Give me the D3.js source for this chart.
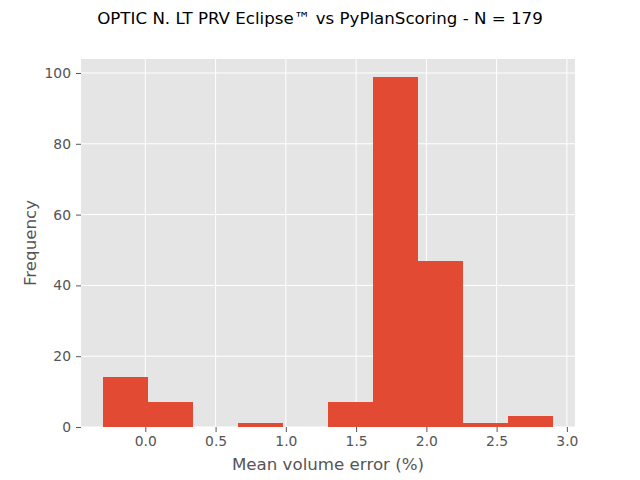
<!DOCTYPE html>
<html><head><meta charset="utf-8">
<script src="https://cdn.jsdelivr.net/npm/d3@7"></script>
<style>body{margin:0;background:#fff}svg{display:block}text{font-family:"DejaVu Sans",sans-serif}</style>
</head><body>
<svg id="c" width="640" height="480"></svg>
<script>
const binStart = -0.298;
const binWidth = 0.3196;
const counts = [14, 7, 0, 1, 0, 7, 99, 47, 1, 3];
const xTicks = [0.0, 0.5, 1.0, 1.5, 2.0, 2.5, 3.0];
const yTicks = [0, 20, 40, 60, 80, 100];
const title = "OPTIC N. LT PRV Eclipse™ vs PyPlanScoring - N = 179";
const xLabel = "Mean volume error (%)";
const yLabel = "Frequency";

const svg = d3.select("#c");
const L = 81, R = 575, T = 59, B = 427;
const bins = counts.map((c, i) => ({x0: binStart + i * binWidth, x1: binStart + (i + 1) * binWidth, c}));
const lo = bins[0].x0, hi = bins[bins.length - 1].x1, pad = (hi - lo) * 0.05;
const x = d3.scaleLinear().domain([lo - pad, hi + pad]).range([L, R]);
const y = d3.scaleLinear().domain([0, d3.max(counts) * 1.05]).range([B, T]);

svg.append("rect").attr("x", L).attr("y", T).attr("width", R - L).attr("height", B - T).attr("fill", "#E5E5E5");
const g = svg.append("g");
g.selectAll(".gx").data(xTicks).join("line").attr("x1", d => x(d)).attr("x2", d => x(d)).attr("y1", T).attr("y2", B).attr("stroke", "#fff").attr("stroke-width", 1);
g.selectAll(".gy").data(yTicks).join("line").attr("y1", d => y(d)).attr("y2", d => y(d)).attr("x1", L).attr("x2", R).attr("stroke", "#fff").attr("stroke-width", 1);

svg.selectAll(".bar").data(bins).join("rect")
  .attr("x", d => x(d.x0)).attr("width", d => x(d.x1) - x(d.x0))
  .attr("y", d => y(d.c)).attr("height", d => B - y(d.c))
  .attr("fill", "#E24A33").attr("shape-rendering", "crispEdges");

const xa = svg.append("g").attr("transform", `translate(0,${B})`)
  .call(d3.axisBottom(x).tickValues(xTicks).tickFormat(d3.format(".1f")).tickSize(5).tickPadding(4));
const ya = svg.append("g").attr("transform", `translate(${L},0)`)
  .call(d3.axisLeft(y).tickValues(yTicks).tickSize(5).tickPadding(5));
[xa, ya].forEach(a => {
  a.select(".domain").remove();
  a.selectAll("line").attr("stroke", "#555");
  a.selectAll("text").attr("fill", "#555").style("font-size", "13.89px");
});

svg.append("text").attr("x", (L + R) / 2).attr("y", 470).attr("text-anchor", "middle").attr("fill", "#555").style("font-size", "16.67px").text(xLabel);
svg.append("text").attr("transform", `translate(36,${(T + B) / 2}) rotate(-90)`).attr("text-anchor", "middle").attr("fill", "#555").style("font-size", "16.67px").text(yLabel);
svg.append("text").attr("x", 320).attr("y", 24).attr("text-anchor", "middle").attr("fill", "#000").style("font-size", "16.67px").text(title);
</script>
</body></html>
